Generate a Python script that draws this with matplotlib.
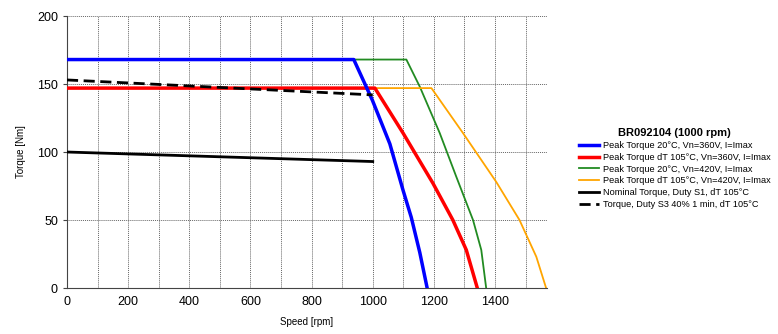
import numpy as np
import matplotlib.pyplot as plt
from matplotlib.ticker import MultipleLocator

plt.rcParams['font.family'] = ['Liberation Sans', 'DejaVu Sans']

# Peak torque curves (speed rpm, torque Nm)
blue_x = [0, 938, 999, 1056, 1099, 1126, 1154, 1178]
blue_y = [168, 168, 138, 106, 72, 52, 26, 0]
red_x = [0, 1007, 1099, 1197, 1262, 1306, 1342]
red_y = [147, 147, 114, 77, 50, 28, 0]
green_x = [0, 1110, 1154, 1219, 1273, 1328, 1355, 1371]
green_y = [168, 168, 148, 114, 82, 50, 28, 0]
orange_x = [0, 1192, 1295, 1404, 1480, 1535, 1567]
orange_y = [147, 147, 114, 78, 50, 23, 0]
# Nominal / S3
nom_x = [0, 1000]
nom_y = [100, 93]
s3_x = [0, 1000]
s3_y = [153, 142]

labels = ["Peak Torque 20°C, Vn=360V, I=Imax",
          "Peak Torque dT 105°C, Vn=360V, I=Imax",
          "Peak Torque 20°C, Vn=420V, I=Imax",
          "Peak Torque dT 105°C, Vn=420V, I=Imax",
          "Nominal Torque, Duty S1, dT 105°C",
          "Torque, Duty S3 40% 1 min, dT 105°C"]

fig = plt.figure(figsize=(7.78, 3.34), dpi=100)
ax = fig.add_axes([0.0861, 0.1377, 0.617, 0.8143])

# draw order: thin ones behind
ax.plot(green_x, green_y, color="#228B22", lw=1.3, label=labels[2], zorder=2)
ax.plot(orange_x, orange_y, color="#FFA500", lw=1.3, label=labels[3], zorder=2)
ax.plot(red_x, red_y, color="#FF0000", lw=2.5, label=labels[1], zorder=3)
ax.plot(blue_x, blue_y, color="#0000FF", lw=2.5, label=labels[0], zorder=4)
ax.plot(nom_x, nom_y, color="black", lw=2, label=labels[4], zorder=5)
ax.plot(s3_x, s3_y, color="black", lw=2, ls=(0, (4, 2)), label=labels[5], zorder=5)

ax.set_xlim(0, 1570)
ax.set_ylim(0, 200)
ax.xaxis.set_major_locator(MultipleLocator(200))
ax.xaxis.set_minor_locator(MultipleLocator(100))
ax.yaxis.set_major_locator(MultipleLocator(50))
ax.grid(True, which="both", axis="x", color="#666666", ls=(0, (1, 1)), lw=0.7)
ax.grid(True, which="major", axis="y", color="#666666", ls=(0, (1, 1)), lw=0.7)
ax.tick_params(axis="both", labelsize=9, length=3, color="#444444")
ax.tick_params(axis="x", which="both", length=0, pad=6)
for s in ["top", "right"]:
    ax.spines[s].set_visible(False)
for s in ["left", "bottom"]:
    ax.spines[s].set_color("#444444")
ax.set_xlabel("Speed [rpm]", fontsize=7, labelpad=6)
ax.set_ylabel("Torque [Nm]", fontsize=7, labelpad=8)

handles, labs = ax.get_legend_handles_labels()
order = [labs.index(l) for l in labels]
leg = fig.legend([handles[i] for i in order], [labs[i] for i in order],
                 loc="center left", bbox_to_anchor=(0.744, 0.495), frameon=False,
                 fontsize=6.6, title="BR092104 (1000 rpm)",
                 title_fontproperties={"weight": "bold", "size": 8},
                 handlelength=2.2, handletextpad=0.45, labelspacing=0.3,
                 borderaxespad=0, borderpad=0)

fig.savefig("out.png", dpi=100)
